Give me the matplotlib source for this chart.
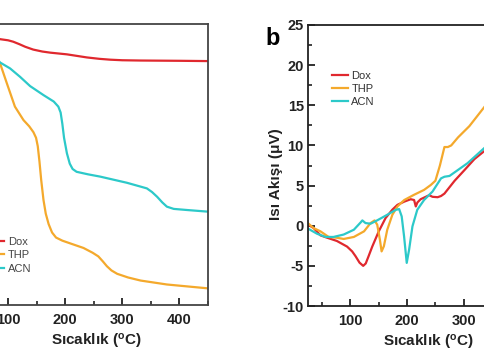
import matplotlib
matplotlib.use("Agg")
import matplotlib.pyplot as plt
from matplotlib.ticker import MultipleLocator

plt.rcParams['font.family'] = ['Liberation Sans', 'DejaVu Sans']
plt.rcParams['mathtext.fontset'] = 'custom'
plt.rcParams['mathtext.rm'] = 'Liberation Sans'
plt.rcParams['mathtext.bf'] = 'Liberation Sans:bold'
plt.rcParams['axes.unicode_minus'] = False
plt.rcParams['lines.solid_joinstyle'] = 'round'

# --- panel a: TGA (kütle %) ---
tga_dox_T = [25, 50, 86, 100, 109, 120, 130, 144, 160, 174, 203, 238, 260, 279, 300,
             332, 402, 451]
tga_dox = [99.5, 97.5, 94.6, 94.2, 93.7, 92.8, 91.9, 90.9, 90.2, 89.8, 89.2, 88.1,
           87.6, 87.3, 87.1, 87.0, 86.9, 86.8]

tga_acn_T = [25, 50, 86, 103.5, 121, 138.6, 162, 180, 188, 192, 195, 198, 203, 208,
             213, 220, 240, 261, 308, 343, 352, 361, 370, 378, 390, 413.5, 451]
tga_acn = [99, 95, 86.3, 84.2, 81.2, 77.9, 74.7, 72.4, 70.6, 68.5, 64.5, 59.5, 54.0,
           50.3, 48.4, 47.4, 46.5, 45.7, 43.5, 41.5, 40.2, 38.5, 36.5, 35.0, 34.2,
           33.8, 33.2]

tga_thp_T = [25, 50, 86, 97.7, 112, 127, 137, 144.4, 149, 152, 155, 158, 162, 166,
             171, 177, 184, 195, 212, 232, 248, 258, 266, 273, 281, 291, 310, 332, 378, 451]
tga_thp = [99, 95, 86, 79, 70.6, 65.8, 63.6, 61.5, 59.5, 56.5, 51.0, 44.5, 37.4, 32.5,
           28.8, 25.8, 24.0, 22.9, 21.7, 20.3, 18.6, 17.3, 15.5, 13.8, 12.3, 11.1, 9.8,
           8.7, 7.3, 5.9]

# --- panel b: DSC (ısı akışı, µV) ---
dsc_dox_T = [26, 35, 47, 59, 76, 94, 103, 109, 116, 122.5, 127, 132, 138.5, 150, 162,
             174, 183, 195, 206.5, 212.4, 215.4, 218.3, 224, 230, 239, 245, 254, 260, 266,
             284, 301, 319, 340, 360]
dsc_dox = [0.1, -0.3, -1.2, -1.5, -1.9, -2.6, -3.2, -3.8, -4.6, -5.0, -4.7, -3.8, -2.6,
           -0.7, 0.95, 2.0, 2.6, 3.0, 3.3, 3.2, 2.4, 2.9, 3.3, 3.5, 3.8, 3.6, 3.55, 3.7,
           4.0, 5.6, 6.9, 8.3, 9.5, 11.0]

dsc_thp_T = [26, 35, 47, 61.5, 76, 88, 106, 124, 135.5, 142.6, 147.3, 152, 155, 159,
             165, 174, 183, 195, 212, 230, 242, 250, 258, 266, 272, 278, 290, 310, 340, 360]
dsc_thp = [0.25, -0.3, -0.7, -1.4, -1.5, -1.65, -1.4, -0.7, 0.33, 0.66, 0.12, -1.74,
           -3.2, -2.56, -0.5, 1.36, 2.4, 3.2, 3.84, 4.46, 5.08, 5.6, 7.5, 9.8, 9.8, 10.0,
           11.0, 12.4, 15.1, 16.8]

dsc_acn_T = [26, 41, 56, 70, 88, 106, 118, 121, 126.6, 135.5, 147, 165, 180, 186, 190.5,
             194.7, 199.4, 203.6, 209.5, 218, 230, 245, 260, 266, 275, 289, 307, 340, 360]
dsc_acn = [-0.4, -1.0, -1.4, -1.4, -1.1, -0.5, 0.41, 0.66, 0.33, 0.25, 0.66, 1.36, 1.98,
           2.07, 1.16, -1.32, -4.63, -2.98, -0.08, 1.98, 3.2, 4.26, 5.9, 6.1, 6.2, 6.9,
           7.8, 9.9, 11.2]

labels = ['Dox', 'THP', 'ACN']
colors = ['#e0282e', '#f4a92c', '#2cc9c9']

fig = plt.figure(figsize=(4.85, 3.6), dpi=100)
W, H = 485.0, 360.0

# panel a is cut off on the left side of the picture
ax1 = fig.add_axes([-20.5 / W, 1 - 305 / H, 228.5 / W, 281 / H])
ax1.plot(tga_dox_T, tga_dox, color=colors[0], lw=1.6, label=labels[0])
ax1.plot(tga_thp_T, tga_thp, color=colors[1], lw=1.6, label=labels[1])
ax1.plot(tga_acn_T, tga_acn, color=colors[2], lw=1.6, label=labels[2])
ax1.set_xlim(50, 450)
ax1.set_ylim(0, 100)
ax1.xaxis.set_major_locator(MultipleLocator(100))
ax1.xaxis.set_minor_locator(MultipleLocator(50))
ax1.set_yticks([])
for s in ax1.spines.values():
    s.set_color('#444444')
    s.set_linewidth(1.3)
ax1.tick_params(axis='x', which='major', direction='in', length=5, width=1.3,
                pad=6, labelsize=10.5, colors='#222222')
ax1.tick_params(axis='x', which='minor', direction='in', length=3, width=1.2,
                colors='#222222')
for t in ax1.get_xticklabels():
    t.set_fontweight('bold')
ax1.set_xlabel(r'Sıcaklık ($\mathbf{^{o}}$C)', fontsize=11, fontweight='bold',
               color='#222222')
ax1.xaxis.set_label_coords(0.51, -0.095)
leg1 = ax1.legend(loc='upper left', bbox_to_anchor=(-12 / W, 1 - 237 / H),
                  bbox_transform=fig.transFigure, frameon=False, fontsize=8,
                  handlelength=1.45, handletextpad=0.35, labelspacing=0.3,
                  borderpad=0, borderaxespad=0)
for t in leg1.get_texts():
    t.set_color('#444444')

# panel b
ax2 = fig.add_axes([308 / W, 1 - 306 / H, 240.6 / W, 281 / H])
ax2.plot(dsc_dox_T, dsc_dox, color=colors[0], lw=1.6, label=labels[0])
ax2.plot(dsc_thp_T, dsc_thp, color=colors[1], lw=1.6, label=labels[1])
ax2.plot(dsc_acn_T, dsc_acn, color=colors[2], lw=1.6, label=labels[2])
ax2.set_xlim(25, 450)
ax2.set_ylim(-10, 25)
ax2.xaxis.set_major_locator(MultipleLocator(100))
ax2.xaxis.set_minor_locator(MultipleLocator(50))
ax2.yaxis.set_major_locator(MultipleLocator(5))
ax2.yaxis.set_minor_locator(MultipleLocator(2.5))
for s in ax2.spines.values():
    s.set_color('#222222')
    s.set_linewidth(1.3)
ax2.tick_params(which='major', direction='in', length=5, width=1.3, labelsize=10.5,
                colors='#222222')
ax2.tick_params(which='minor', direction='in', length=3, width=1.2, colors='#222222')
ax2.tick_params(axis='x', pad=6)
ax2.tick_params(axis='y', pad=3)
for t in ax2.get_xticklabels() + ax2.get_yticklabels():
    t.set_fontweight('bold')
ax2.set_xlabel(r'Sıcaklık ($\mathbf{^{o}}$C)', fontsize=11, fontweight='bold',
               color='#222222')
ax2.xaxis.set_label_coords(0.5, -0.095)
ax2.set_ylabel('Isı Akışı (μV)', fontsize=11, fontweight='bold', color='#222222')
ax2.yaxis.set_label_coords(-0.104, 0.47)
leg2 = ax2.legend(loc='upper left', bbox_to_anchor=(332 / W, 1 - 71 / H),
                  bbox_transform=fig.transFigure, frameon=False, fontsize=8,
                  handlelength=1.45, handletextpad=0.3, labelspacing=0.25,
                  borderpad=0, borderaxespad=0)
for t in leg2.get_texts():
    t.set_color('#333333')

fig.text(265 / W, 1 - 45 / H, 'b', fontsize=17, fontweight='bold', ha='left',
         va='baseline')

fig.savefig('out.png', dpi=100)
